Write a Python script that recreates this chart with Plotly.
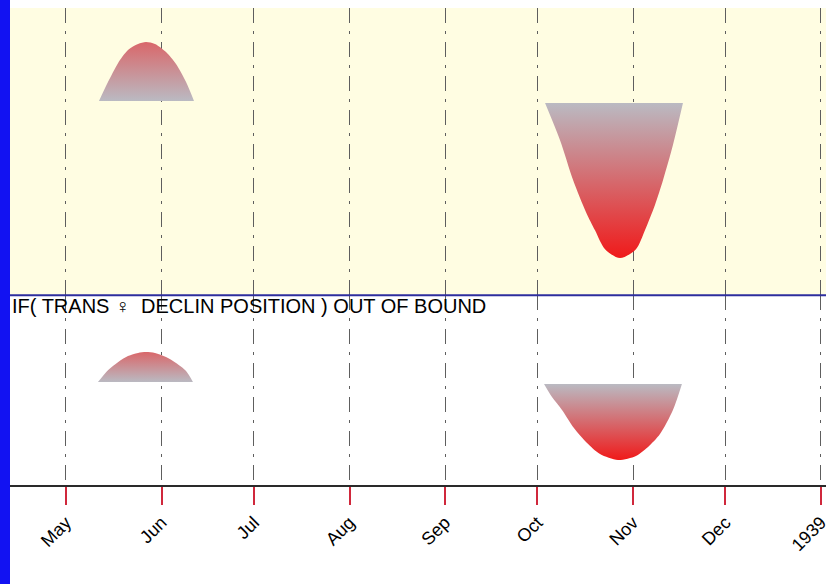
import plotly.graph_objects as go

# ---- data ----
tick_dates = ["1938-05-01", "1938-06-01", "1938-07-01", "1938-08-01", "1938-09-01",
              "1938-10-01", "1938-11-01", "1938-12-01", "1939-01-01"]
tick_labels = ["May", "Jun", "Jul", "Aug", "Sep", "Oct", "Nov", "Dec", "1939"]

# upper panel, rising arc (May-Jun)
top_arc_dates = ["1938-05-11 17:00", "1938-05-14 15:00", "1938-05-17 21:00", "1938-05-21 03:00",
                 "1938-05-24 09:00", "1938-05-26 23:00", "1938-05-29 21:00", "1938-06-02 11:00",
                 "1938-06-05 17:00", "1938-06-08 23:00", "1938-06-11 13:00"]
top_arc_vals = [67.6, 74.2, 80.8, 85.4, 87.5, 88.2, 87.5, 84.7, 80.5, 74.2, 67.6]

# upper panel, falling trough (Oct-Nov)
top_trough_dates = ["1938-10-03 11:00", "1938-10-08 07:00", "1938-10-12 13:00", "1938-10-16 18:00",
                    "1938-10-19 16:00", "1938-10-22 22:00", "1938-10-27 19:00", "1938-11-01 23:00",
                    "1938-11-04 21:00", "1938-11-08 03:00", "1938-11-10 18:00", "1938-11-13 23:00",
                    "1938-11-17 05:00"]
top_trough_vals = [66.9, 54.0, 40.1, 28.9, 22.6, 16.0, 12.9, 16.0, 22.6, 31.4, 40.1, 52.3, 66.9]

# lower panel, rising arc
bot_arc_dates = ["1938-05-11 09:00", "1938-05-14 15:00", "1938-05-17 21:00", "1938-05-21 03:00",
                 "1938-05-24 09:00", "1938-05-26 23:00", "1938-05-29 21:00", "1938-06-02 11:00",
                 "1938-06-05 17:00", "1938-06-08 23:00", "1938-06-11 05:00"]
bot_arc_vals = [54.2, 60.5, 64.7, 67.9, 69.5, 70.0, 69.5, 67.4, 64.2, 60.0, 54.2]

# lower panel, falling trough
bot_trough_dates = ["1938-10-03 03:00", "1938-10-05 17:00", "1938-10-08 23:00", "1938-10-12 20:00",
                    "1938-10-17 02:00", "1938-10-21 07:00", "1938-10-27 03:00", "1938-11-01 23:00",
                    "1938-11-05 21:00", "1938-11-09 18:00", "1938-11-13 23:00", "1938-11-16 21:00"]
bot_trough_vals = [53.2, 46.3, 39.5, 30.0, 22.1, 16.3, 13.2, 15.3, 20.0, 26.8, 39.5, 53.2]

note_text = "IF( TRANS \u2640  DECLIN POSITION ) OUT OF BOUND"

GRAY = "#BABAC2"
ARC_RED = "#D9676A"
DEEP_RED = "#F01A1A"
FONT = "Liberation Sans, Arial, sans-serif"


def shape_trace(dates, vals, yaxis, low_color, high_color):
    return go.Scatter(
        x=dates, y=vals, mode="lines", yaxis=yaxis,
        line=dict(width=0, shape="spline", smoothing=0.8),
        fill="toself",
        fillgradient=dict(type="vertical",
                          colorscale=[[0, low_color], [1, high_color]],
                          start=min(vals), stop=max(vals)),
        hoverinfo="skip", showlegend=False,
    )


fig = go.Figure()
fig.add_trace(shape_trace(top_arc_dates, top_arc_vals, "y2", GRAY, ARC_RED))
fig.add_trace(shape_trace(top_trough_dates, top_trough_vals, "y2", DEEP_RED, GRAY))
fig.add_trace(shape_trace(bot_arc_dates, bot_arc_vals, "y", GRAY, ARC_RED))
fig.add_trace(shape_trace(bot_trough_dates, bot_trough_vals, "y", DEEP_RED, GRAY))

SPLIT = 0.398

fig.update_layout(
    width=826, height=584,
    margin=dict(l=10, r=0, t=8, b=99, autoexpand=False),
    paper_bgcolor="white", plot_bgcolor="white",
    xaxis=dict(
        type="date",
        range=["1938-04-12 20:00", "1939-01-02 15:00"],
        tickvals=tick_dates, ticktext=tick_labels,
        tickangle=-45, ticklabeloverflow="allow", automargin=False,
        ticks="outside", ticklen=18, tickwidth=1.5, tickcolor="#D0283C",
        tickfont=dict(family=FONT, size=18, color="black"),
        showgrid=True, gridcolor="#5E5E5E", gridwidth=1, griddash="15px,8px,3px,8px",
        showline=True, linecolor="#2A2A2A", linewidth=2,
        zeroline=False, anchor="y",
    ),
    yaxis=dict(domain=[0, SPLIT], range=[0, 100], visible=False, fixedrange=True),
    yaxis2=dict(domain=[SPLIT, 1], range=[0, 100], visible=False, anchor="x", fixedrange=True),
    shapes=[
        dict(type="rect", xref="paper", yref="paper", x0=0, x1=1, y0=SPLIT, y1=1,
             fillcolor="#FFFDE2", line=dict(width=0), layer="below"),
        dict(type="line", xref="paper", yref="paper", x0=0, x1=1, y0=SPLIT, y1=SPLIT,
             line=dict(color="#2E2E9E", width=2), layer="above"),
        dict(type="rect", xref="paper", yref="paper", x0=-0.0125, x1=0, y0=-0.25, y1=1.05,
             fillcolor="#1212F2", line=dict(width=0), layer="above"),
    ],
    annotations=[
        dict(text=note_text, xref="paper", yref="paper", x=0, y=0.376,
             xanchor="left", yanchor="middle", showarrow=False,
             font=dict(family=FONT, size=20, color="black")),
    ],
)

fig.write_html("out.html", config={"displayModeBar": False},
               post_script="document.body.style.margin='0';document.body.style.overflow='hidden';")
